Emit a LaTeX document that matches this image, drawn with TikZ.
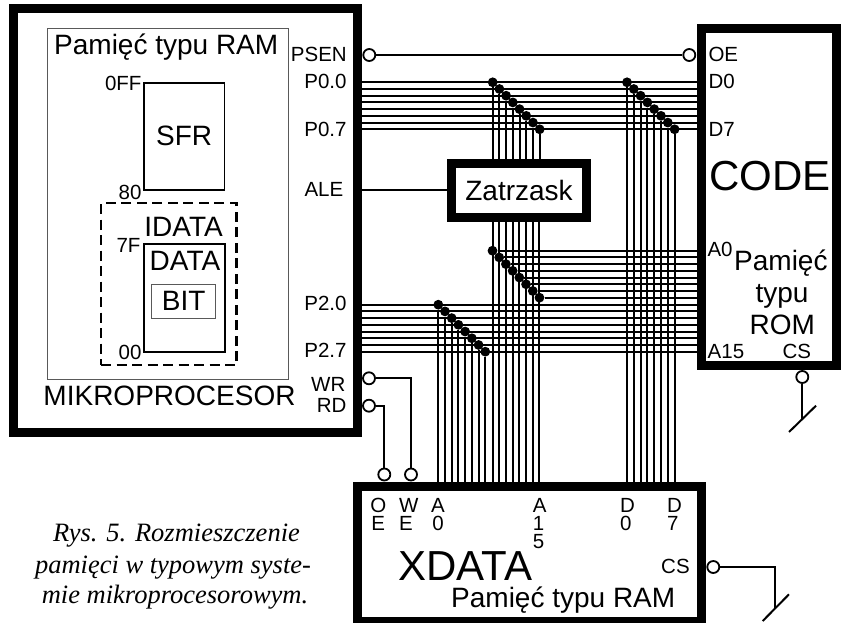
\documentclass[tikz,border=0pt]{standalone}
\usepackage{fontspec}
\setmainfont{Liberation Sans}
\newfontfamily\capfont[Ligatures=TeX]{Liberation Serif}
\newcommand{\fsA}{\fontsize{20.5}{20.5}\selectfont}
\newcommand{\fsS}{\fontsize{20.5}{18.3}\selectfont}
\newcommand{\fsB}{\fontsize{28}{28}\selectfont}
\newcommand{\fsC}{\fontsize{42}{42}\selectfont}
\newcommand{\fsD}{\capfont\itshape\fontsize{26.5}{26.5}\selectfont}
\tikzset{
  heavybox/.style={draw,line width=9pt,inner sep=0pt,rectangle},
  midbox/.style={draw,line width=1.8pt,inner sep=0pt,rectangle},
  thinbox/.style={draw=black!65,line width=1pt,inner sep=0pt,rectangle},
  dashbox/.style={draw,line width=2.2pt,inner sep=0pt,rectangle,dash pattern=on 10pt off 5.5pt},
  wire/.style={line width=2pt},
  jdot/.style={circle,fill=black,inner sep=0pt,minimum size=9.8pt},
  neg/.style={circle,draw,fill=white,line width=1.8pt,inner sep=0pt,minimum size=12pt},
  lab/.style={inner sep=0pt,anchor=base west},
  labr/.style={inner sep=0pt,anchor=base east},
  labc/.style={inner sep=0pt,anchor=base},
  stackc/.style={inner sep=0pt,anchor=north,align=center,font=\fsS},
  stackl/.style={inner sep=0pt,anchor=north west,align=left,font=\fsS},
}
\begin{document}
\begin{tikzpicture}[x=1pt,y=-1pt]
\clip (0,0) rectangle (843,623);
\fill[white] (0,0) rectangle (843,623);
% boxes
\node[heavybox,minimum width=344pt,minimum height=424pt] (main) at (185.5,220.5) {};
\node[heavybox,minimum width=134.5pt,minimum height=336.5pt] (code) at (769,196.75) {};
\node[heavybox,minimum width=344pt,minimum height=134.7pt] (xdata) at (529.5,553.85) {};
\node[heavybox,minimum width=134.5pt,minimum height=53.7pt,font=\fsB] (zat) at (519,190.35) {Zatrzask};
\node[thinbox,minimum width=240.3pt,minimum height=350.3pt] (ram) at (167.85,203.85) {};
\node[midbox,minimum width=80.8pt,minimum height=107.3pt,font=\fsB] (sfr) at (184.1,136.35) {SFR};
\node[dashbox,minimum width=135.5pt,minimum height=162pt] (idata) at (168.75,284) {};
\node[midbox,minimum width=81pt,minimum height=107.7pt] (dat) at (184.2,298.15) {};
\node[thinbox,minimum width=64pt,minimum height=33.3pt,font=\fsB] (bit) at (183.7,301.35) {BIT};
% negation circles
\node[neg] (psen) at (369.3,55) {};
\node[neg] (oe) at (689.3,55) {};
\node[neg] (wr) at (369,378.3) {};
\node[neg] (rd) at (369,405.7) {};
\node[neg] (xoe) at (384.3,474.5) {};
\node[neg] (xwe) at (411,474.5) {};
\node[neg] (xcs) at (713.3,567) {};
\node[neg] (ccs) at (802.3,377) {};
% free ends
\coordinate (s1a) at (789,432);
\coordinate (s1b) at (816,405.7);
\coordinate (s2a) at (762.7,621);
\coordinate (s2b) at (789,594.3);
\coordinate (s1m) at (802.3,419);
\coordinate (s2m) at (775,608.3);
\coordinate (alet) at (362,190);
% junction dots and buses
\foreach \i in {0,...,7}{
  \node[jdot] (pa\i) at ({492.7+6.71*\i},{82.3+6.71*\i}) {};
  \node[jdot] (pd\i) at ({627+6.8*\i},{82.3+6.71*\i}) {};
  \node[jdot] (ah\i) at ({492.5+6.71*\i},{250.7+6.71*\i}) {};
  \node[jdot] (al\i) at ({438.3+6.71*\i},{304.7+6.71*\i}) {};
  \draw[wire] (main.east |- pa\i) -- (pa\i -| code.west);
  \draw[wire] (main.east |- al\i) -- (al\i -| code.west);
  \draw[wire] (ah\i) -- (ah\i -| code.west);
  \draw[wire] (pa\i) -- (pa\i |- zat.north);
  \draw[wire] (pd\i) -- (pd\i |- xdata.north);
  \draw[wire] (ah\i |- zat.south) -- (ah\i |- xdata.north);
  \draw[wire] (al\i) -- (al\i |- xdata.north);
}
% control lines
\draw[wire] (psen) -- (oe);
\draw[wire] (alet) -- (alet -| zat.west);
\draw[wire] (wr) -| (xwe);
\draw[wire] (rd) -| (xoe);
\draw[wire] (xcs) -| (s2m);
\draw[wire] (ccs) -- (s1m);
\draw[wire] (s1a) -- (s1b);
\draw[wire] (s2a) -- (s2b);
% texts in the processor
\node[lab,font=\fsB] (t1) at (54,55) {Pamięć typu RAM};
\node[labr,font=\fsA] (t2) at (141.7,90.7) {0FF};
\node[labr,font=\fsA] (t3) at (141.7,199) {80};
\node[labr,font=\fsA] (t4) at (140.7,252.3) {7F};
\node[labr,font=\fsA] (t5) at (141.7,359) {00};
\node[labc,font=\fsB] (t6) at (183.6,236.7) {IDATA};
\node[labc,font=\fsB] (t7) at (185,270) {DATA};
\node[labc,font=\fsB] (t8) at (169.5,405) {MIKROPROCESOR};
\node[labr,font=\fsA] (p1) at (347,62) {PSEN};
\node[labr,font=\fsA] (p2) at (346.7,88.7) {P0.0};
\node[labr,font=\fsA] (p3) at (346.7,136) {P0.7};
\node[labr,font=\fsA] (p4) at (343.5,196.7) {ALE};
\node[labr,font=\fsA] (p5) at (346.7,310.7) {P2.0};
\node[labr,font=\fsA] (p6) at (346.7,357.7) {P2.7};
\node[labr,font=\fsA] (p7) at (345.5,391.7) {WR};
\node[labr,font=\fsA] (p8) at (346.7,412.3) {RD};
% texts in the ROM
\node[lab,font=\fsA] (c1) at (708.3,61.7) {OE};
\node[lab,font=\fsA] (c2) at (708.3,88.3) {D0};
\node[lab,font=\fsA] (c3) at (708.3,136) {D7};
\node[labc,font=\fsC] (c4) at (770,190) {CODE};
\node[lab,font=\fsA] (c5) at (707.3,256.7) {A0};
\node[lab,font=\fsB] (c6) at (734,270.7) {Pamięć};
\node[labc,font=\fsB] (c7) at (782,302) {typu};
\node[labc,font=\fsB] (c8) at (782.3,334.3) {ROM};
\node[lab,font=\fsA] (c9) at (707.5,358.3) {A15};
\node[lab,font=\fsA] (c10) at (782.3,358.3) {CS};
% texts in XDATA
\node[stackc] (x1) at (378.3,497.7) {O\\E};
\node[stackl] (x3) at (399,498) {W\\E};
\node[stackc] (x5) at (438,498) {A\\0};
\node[stackl] (x7) at (532.7,498) {A\\1\\5};
\node[stackl] (x10) at (620,498) {D\\0};
\node[stackl] (x12) at (667,498) {D\\7};
\node[lab,font=\fsC] (x14) at (398,580) {XDATA};
\node[lab,font=\fsB] (x15) at (451,607.7) {Pamięć typu RAM};
\node[lab,font=\fsA] (x16) at (661,573.3) {CS};
% caption
\node[labc,font=\fsD] (r1) at (176.5,541.7) {Rys. 5. Rozmieszczenie};
\node[labc,font=\fsD] (r2) at (173,573) {pamięci w typowym syste-};
\node[labc,font=\fsD] (r3) at (175,603.5) {mie mikroprocesorowym.};
\end{tikzpicture}
\end{document}
